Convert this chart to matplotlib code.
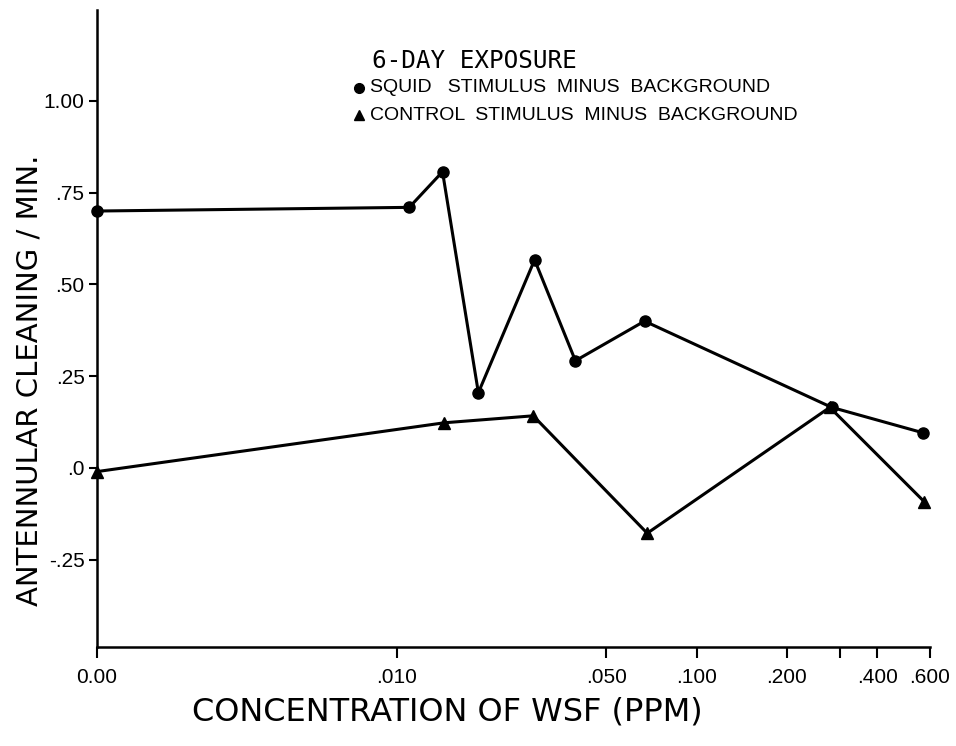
import numpy as np
import matplotlib.pyplot as plt

# Squid stimulus minus background, 6-day exposure
squid_conc = [0.0, 0.011, 0.0142, 0.0187, 0.0288, 0.0394, 0.067, 0.282, 0.567]
squid_vals = [0.70, 0.71, 0.807, 0.205, 0.567, 0.292, 0.40, 0.165, 0.096]

# Control stimulus minus background
ctrl_conc = [0.0, 0.0144, 0.0285, 0.0684, 0.278, 0.574]
ctrl_vals = [-0.01, 0.123, 0.142, -0.178, 0.165, -0.092]

xtick_vals = [0.0, 0.010, 0.050, 0.100, 0.200, 0.300, 0.400, 0.600]
xtick_labels = ["0.00", ".010", ".050", ".100", ".200", "", ".400", ".600"]
ytick_vals = [1.00, 0.75, 0.50, 0.25, 0.0, -0.25]
ytick_labels = ["1.00", ".75", ".50", ".25", ".0", "-.25"]

# zero concentration sits at the left end of the log axis
ZERO_POS = 0.001


def xpos(c):
    c = np.asarray(c, dtype=float)
    return np.where(c == 0, ZERO_POS, c)


plt.rcParams["font.family"] = ["Liberation Sans", "DejaVu Sans"]

W, H = 956, 746
fig = plt.figure(figsize=(W / 100, H / 100), dpi=100)
ax = fig.add_axes([0.1015, 0.1327, 0.8713, 0.854])

ax.plot(xpos(squid_conc), squid_vals, color="black", lw=2.2,
        marker="o", markersize=8, clip_on=False)
ax.plot(xpos(ctrl_conc), ctrl_vals, color="black", lw=2.2,
        marker="^", markersize=8, clip_on=False)

ax.set_xscale("log")
ax.set_xlim(ZERO_POS, 0.6)
ax.set_ylim(-0.488, 1.248)

ax.set_xticks(xpos(xtick_vals))
ax.set_xticklabels(xtick_labels, fontsize=15)
ax.xaxis.set_minor_locator(plt.NullLocator())
ax.set_yticks(ytick_vals)
ax.set_yticklabels(ytick_labels, fontsize=15)

ax.tick_params(axis="x", direction="out", length=8, width=1.5, pad=7)
ax.tick_params(axis="y", direction="out", length=6, width=1.5, pad=3)

for side in ["top", "right"]:
    ax.spines[side].set_visible(False)
for side in ["left", "bottom"]:
    ax.spines[side].set_linewidth(1.8)

# axis titles
fig.text(447 / W, 1 - 712 / H, "CONCENTRATION OF WSF (PPM)", fontsize=23,
         family="DejaVu Sans", ha="center", va="center")
fig.text(30 / W, 1 - 380 / H, "ANTENNULAR CLEANING / MIN.", fontsize=21,
         family="DejaVu Sans", ha="center", va="center", rotation=90)

# legend block
fig.text(372 / W, 1 - 61 / H, "6-DAY EXPOSURE", fontsize=17.5,
         family="DejaVu Sans Mono", va="center", ha="left")
fig.text(370 / W, 1 - 88 / H, "SQUID   STIMULUS  MINUS  BACKGROUND",
         fontsize=14, va="center", ha="left")
fig.text(370 / W, 1 - 115 / H, "CONTROL  STIMULUS  MINUS  BACKGROUND",
         fontsize=14, va="center", ha="left")
fig.lines.append(plt.Line2D([359 / W], [1 - 88 / H], marker="o",
                            markersize=7, color="black",
                            transform=fig.transFigure))
fig.lines.append(plt.Line2D([359 / W], [1 - 115 / H], marker="^",
                            markersize=7, color="black",
                            transform=fig.transFigure))

fig.savefig("out.png", dpi=100)
